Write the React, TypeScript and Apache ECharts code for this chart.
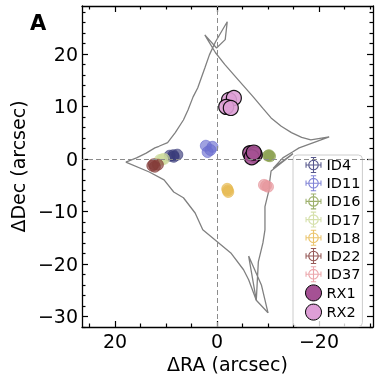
import React, { useEffect, useRef } from 'react';
import * as echarts from 'echarts';

const FONT = '"DejaVu Sans", sans-serif';

// Axis ticks
const xMajor = [-20, 0, 20];
const xMinor = [-30, -25, -15, -10, -5, 5, 10, 15, 25];
const yMajor = [-30, -20, -10, 0, 10, 20];
const yMinor = [-32, -28, -26, -24, -22, -18, -16, -14, -12, -8, -6, -4, -2, 2, 4, 6, 8, 12, 14, 16, 18, 22, 24, 26, 28];

// Caustic curves (ΔRA, ΔDec)
const causticMain: [number, number][] = [
  [17.9, -0.6], [15.8, 0.2], [13.9, 1.1], [12.2, 2.1], [11.4, 2.4], [9.7, 3.1], [8.2, 5.0],
  [6.6, 7.4], [5.7, 9.3], [4.7, 11.8], [3.8, 13.5], [2.4, 17.3], [1.5, 19.8], [0.3, 22.3],
  [-2.0, 26.1], [-1.6, 22.7], [0.1, 21.1], [2.4, 23.6], [1.85, 22.7], [0.3, 20.2],
  [-1.5, 18.0], [-3.3, 16.0], [-5.2, 13.9], [-7.1, 11.8], [-9.0, 9.6], [-10.6, 7.8],
  [-12.6, 6.2], [-14.6, 5.0], [-16.6, 4.1], [-18.4, 3.6], [-22.0, 4.2],
  [-19.2, 3.2], [-16.1, 2.1], [-14.8, 1.3], [-12.9, 0.2], [-11.0, -1.8], [-14.9, 1.0],
  [-10.6, -2.3], [-10.3, -4.5], [-10.2, -5.9],
  [-9.4, -9.1], [-9.4, -13.5], [-9.0, -16.0], [-8.1, -19.6], [-7.7, -26.9], [-6.2, -18.5],
  [-8.7, -24.0], [-10.0, -29.3],
];
const causticLower: [number, number][] = [
  [17.9, -0.6], [13.3, -2.5], [10.4, -4.0], [8.5, -6.3], [6.6, -7.4], [4.3, -10.3], [2.8, -13.5],
  [-0.1, -15.8], [-2.7, -17.9], [-5.2, -21.1], [-6.2, -23.0], [-7.7, -26.9], [-10.0, -29.3],
];

// Image positions
const id4: [number, number][] = [[9.3, 0.6], [7.8, 0.8], [8.5, 0.4], [8.6, 0.7]];
const id11: [number, number][] = [[2.2, 2.5], [1.3, 1.7], [1.85, 1.3], [0.9, 2.3]];
const id16: [number, number][] = [[-10.0, 0.6], [-10.4, 0.5], [-10.2, 0.7]];
const id17: [number, number][] = [[11.2, -0.2], [10.4, 0.0], [10.8, -0.1]];
const id18: [number, number][] = [[-2.0, -5.7], [-2.2, -6.3], [-2.1, -6.0]];
const id22: [number, number][] = [[12.7, -1.3], [11.6, -1.1], [12.2, -1.5], [12.4, -1.0]];
const id37: [number, number][] = [[-9.2, -4.95], [-10.0, -5.3], [-9.6, -5.1]];
const rx1: [number, number][] = [[-6.5, 1.1], [-7.4, 0.8], [-6.8, 0.3], [-7.2, 1.2]];
const rx2: [number, number][] = [[-2.35, 11.2], [-3.3, 11.6], [-1.8, 9.9], [-2.7, 9.7]];

const idSeries = [
  { name: 'ID4', data: id4, color: '#393b79' },
  { name: 'ID11', data: id11, color: '#6b6ecf' },
  { name: 'ID16', data: id16, color: '#8ca252' },
  { name: 'ID17', data: id17, color: '#cedb9c' },
  { name: 'ID18', data: id18, color: '#e7ba52' },
  { name: 'ID22', data: id22, color: '#843c39' },
  { name: 'ID37', data: id37, color: '#e7969c' },
];
const rxSeries = [
  { name: 'RX1', data: rx1, color: '#a55194' },
  { name: 'RX2', data: rx2, color: '#de9ed6' },
];

const ICON_ERR =
  'path://M4,10A6,6 0 1,0 16,10A6,6 0 1,0 4,10Z M5.3,10A4.7,4.7 0 1,1 14.7,10A4.7,4.7 0 1,1 5.3,10Z ' +
  'M1,9.4H4V10.6H1Z M16,9.4H19V10.6H16Z M5.3,9.4H14.7V10.6H5.3Z ' +
  'M9.4,1H10.6V4H9.4Z M9.4,16H10.6V19H9.4Z M9.4,5.3H10.6V14.7H9.4Z ' +
  'M1,7H2.2V13H1Z M17.8,7H19V13H17.8Z M7,1H13V2.2H7Z M7,17.8H13V19H7Z';

const fmt = (v: number) => (v < 0 ? '\u2212' + Math.abs(v) : String(v));

const X_MIN = -30.6, X_MAX = 26.5, Y_MIN = -32, Y_MAX = 29.1;

function xAxis(position: 'top' | 'bottom', ticks: number[], len: number, labels: boolean, line: boolean) {
  return {
    type: 'value', min: X_MIN, max: X_MAX, inverse: true, position,
    axisLine: { show: line, onZero: false, lineStyle: { color: '#000', width: 1.3 } },
    axisTick: { show: true, inside: true, length: len, customValues: ticks, lineStyle: { color: '#000', width: 1.2 } },
    axisLabel: labels
      ? { show: true, customValues: ticks, formatter: fmt, fontSize: 19, color: '#000', fontFamily: FONT, margin: 4 }
      : { show: false },
    splitLine: { show: false },
    ...(labels ? { name: 'ΔRA (arcsec)', nameLocation: 'middle', nameGap: 24, nameTextStyle: { fontSize: 19, color: '#000', fontFamily: FONT } } : {}),
  };
}
function yAxis(position: 'left' | 'right', ticks: number[], len: number, labels: boolean, line: boolean) {
  return {
    type: 'value', min: Y_MIN, max: Y_MAX, position,
    axisLine: { show: line, onZero: false, lineStyle: { color: '#000', width: 1.3 } },
    axisTick: { show: true, inside: true, length: len, customValues: ticks, lineStyle: { color: '#000', width: 1.2 } },
    axisLabel: labels
      ? { show: true, customValues: ticks, formatter: fmt, fontSize: 19, color: '#000', fontFamily: FONT, margin: 4 }
      : { show: false },
    splitLine: { show: false },
    ...(labels ? { name: 'ΔDec (arcsec)', nameLocation: 'middle', nameGap: 52, nameRotate: 90, nameTextStyle: { fontSize: 19, color: '#000', fontFamily: FONT } } : {}),
  };
}

const option: any = {
  animation: false,
  textStyle: { fontFamily: FONT },
  grid: { left: 74, right: 7, top: 6, bottom: 53 },
  xAxis: [
    xAxis('bottom', xMajor, 6, true, true),
    xAxis('bottom', xMinor, 3.5, false, false),
    xAxis('top', xMajor, 6, false, true),
    xAxis('top', xMinor, 3.5, false, false),
  ],
  yAxis: [
    yAxis('left', yMajor, 6, true, true),
    yAxis('left', yMinor, 3.5, false, false),
    yAxis('right', yMajor, 6, false, true),
    yAxis('right', yMinor, 3.5, false, false),
  ],
  legend: {
    orient: 'vertical', left: 293, top: 155,
    itemWidth: 16, itemHeight: 16, itemGap: 2.2, itemTextGap: 13,
    padding: [2, 2, 6, 12],
    backgroundColor: 'rgba(255,255,255,0.8)', borderColor: '#cccccc', borderWidth: 1, borderRadius: 4,
    textStyle: { fontSize: 14.5, color: '#000', fontFamily: FONT, lineHeight: 16 },
    data: [
      ...idSeries.map((s) => ({ name: s.name, icon: ICON_ERR, itemStyle: { color: s.color, opacity: 0.85, borderWidth: 0 } })),
      ...rxSeries.map((s) => ({ name: s.name, icon: 'circle', itemStyle: { color: s.color, borderColor: '#000', borderWidth: 1, opacity: 1 } })),
    ],
  },
  graphic: [
    { type: 'text', left: 30, top: 12, style: { text: 'A', font: 'bold 21px "DejaVu Sans"', fill: '#000' } },
  ],
  series: [
    {
      type: 'line', name: 'caustic1', data: causticMain, showSymbol: false, symbol: 'none', z: 1,
      lineStyle: { color: '#808080', width: 1.3 }, silent: true,
      markLine: {
        silent: true, symbol: ['none', 'none'], label: { show: false },
        lineStyle: { color: '#8c8c8c', type: [5, 3], width: 1 },
        data: [{ xAxis: 0 }, { yAxis: 0 }],
      },
    },
    {
      type: 'line', name: 'caustic2', data: causticLower, showSymbol: false, symbol: 'none', z: 1,
      lineStyle: { color: '#808080', width: 1.3 }, silent: true,
    },
    ...idSeries.map((s) => ({
      type: 'scatter', name: s.name, data: s.data, symbol: 'circle', symbolSize: 11, z: 3,
      itemStyle: { color: s.color, opacity: 0.65, borderColor: s.color, borderWidth: 1 },
    })),
    ...rxSeries.map((s) => ({
      type: 'scatter', name: s.name, data: s.data, symbol: 'circle', symbolSize: 15, z: 4,
      itemStyle: { color: s.color, opacity: 0.9, borderColor: '#000', borderWidth: 1.2 },
    })),
  ],
};

export default function App() {
  const ref = useRef<HTMLDivElement>(null);
  useEffect(() => {
    const chart = echarts.init(ref.current!, null, { renderer: 'svg' });
    chart.setOption(option);
    return () => chart.dispose();
  }, []);
  return <div ref={ref} style={{ position: 'fixed', left: 0, top: 0, width: 380, height: 380 }} />;
}
